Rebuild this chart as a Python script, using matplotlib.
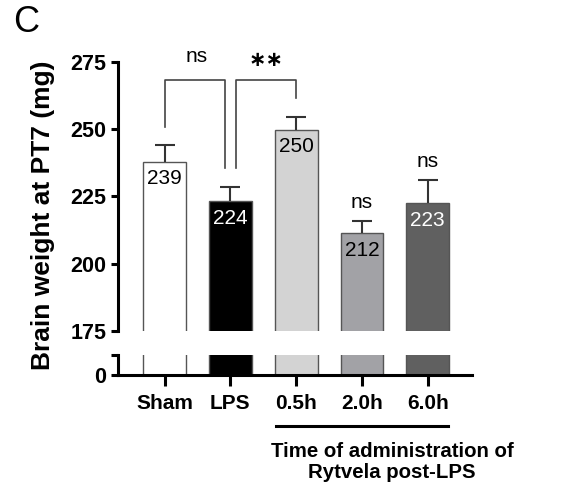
import matplotlib.pyplot as plt

plt.rcParams['font.family'] = ['Liberation Sans', 'DejaVu Sans']

groups = ['Sham', 'LPS', '0.5h', '2.0h', '6.0h']
means = [237.8, 223.2, 249.8, 211.3, 222.4]
sem = [6.1, 5.1, 4.8, 4.5, 8.5]
value_labels = ['239', '224', '250', '212', '223']
bar_colors = ['#ffffff', '#000000', '#d3d3d3', '#a2a2a6', '#606060']
label_colors = ['black', 'white', 'black', 'black', 'white']
upper_ticks = [175, 200, 225, 250, 275]
ns_groups = [3, 4]

x = list(range(len(groups)))
lw = 2.2

fig = plt.figure(figsize=(5.8, 4.91), dpi=100)
ax = fig.add_axes([0.2034, 0.3259, 0.610, 0.5484])
ax2 = fig.add_axes([0.2034, 0.2363, 0.610, 0.0407])

for a in (ax, ax2):
    a.bar(x, means, width=0.65, color=bar_colors, edgecolor='#555555', linewidth=1.0)
    a.set_xlim(-0.71, 4.67)
    for s in ['top', 'right']:
        a.spines[s].set_visible(False)
    a.spines['left'].set_linewidth(lw)

eb = ax.errorbar(x, means, yerr=[[0] * 5, sem], fmt='none', ecolor='#333333',
                 elinewidth=1.5, capsize=7, capthick=1.5)
eb[1][0].set_visible(False)  # no cap at bar top
ax.set_ylim(175, 275)
ax.set_yticks(upper_ticks)
ax.spines['bottom'].set_visible(False)
ax.tick_params(axis='x', bottom=False, labelbottom=False)
ax.tick_params(axis='y', width=lw, length=5, labelsize=15.5)
for t in ax.get_yticklabels():
    t.set_fontweight('bold')
ax.set_ylabel('Brain weight at PT7 (mg)', fontsize=19, fontweight='bold')
ax.yaxis.set_label_coords(-0.178, 0.43)

for i in x:
    ax.text(i, means[i] - 6.3, value_labels[i], ha='center', va='center',
            fontsize=15, color=label_colors[i])

# significance brackets
bk = dict(color='#444444', lw=1.2)
ax.plot([0, 0, 0.92, 0.92], [250.9, 268.2, 268.2, 235.4], **bk)
ax.plot([1.08, 1.08, 2.0, 2.0], [235.4, 268.2, 268.2, 261.4], **bk)
ax.text(0.49, 277, 'ns', ha='center', va='center', fontsize=15)
ax.text(1.54, 275.5, '∗∗', ha='center', va='center', fontsize=15, fontweight='bold')
for i in ns_groups:
    ax.text(i, means[i] + sem[i] + 7, 'ns', ha='center', va='center', fontsize=15)

ax2.set_ylim(0, 6)
ax2.set_yticks([0, 6])
ax2.set_yticklabels(['0', ''])
ax2.spines['bottom'].set_linewidth(lw)
ax2.tick_params(axis='y', width=lw, length=5, labelsize=15.5)
ax2.tick_params(axis='x', width=lw, length=8, labelsize=15, pad=6)
ax2.set_xticks(x)
ax2.set_xticklabels(groups)
for t in ax2.get_yticklabels() + ax2.get_xticklabels():
    t.set_fontweight('bold')

# group line under the treatment labels
fig.add_artist(plt.Line2D([0.476, 0.772], [0.1324, 0.1324], color='black', lw=2.2))
fig.text(0.676, 0.100, 'Time of administration of\nRytvela post-LPS', ha='center',
         va='top', fontsize=14.7, fontweight='bold', linespacing=1.15)

fig.text(0.022, 0.955, 'C', fontsize=26, va='center', ha='left')

fig.savefig('out.png', dpi=100)
